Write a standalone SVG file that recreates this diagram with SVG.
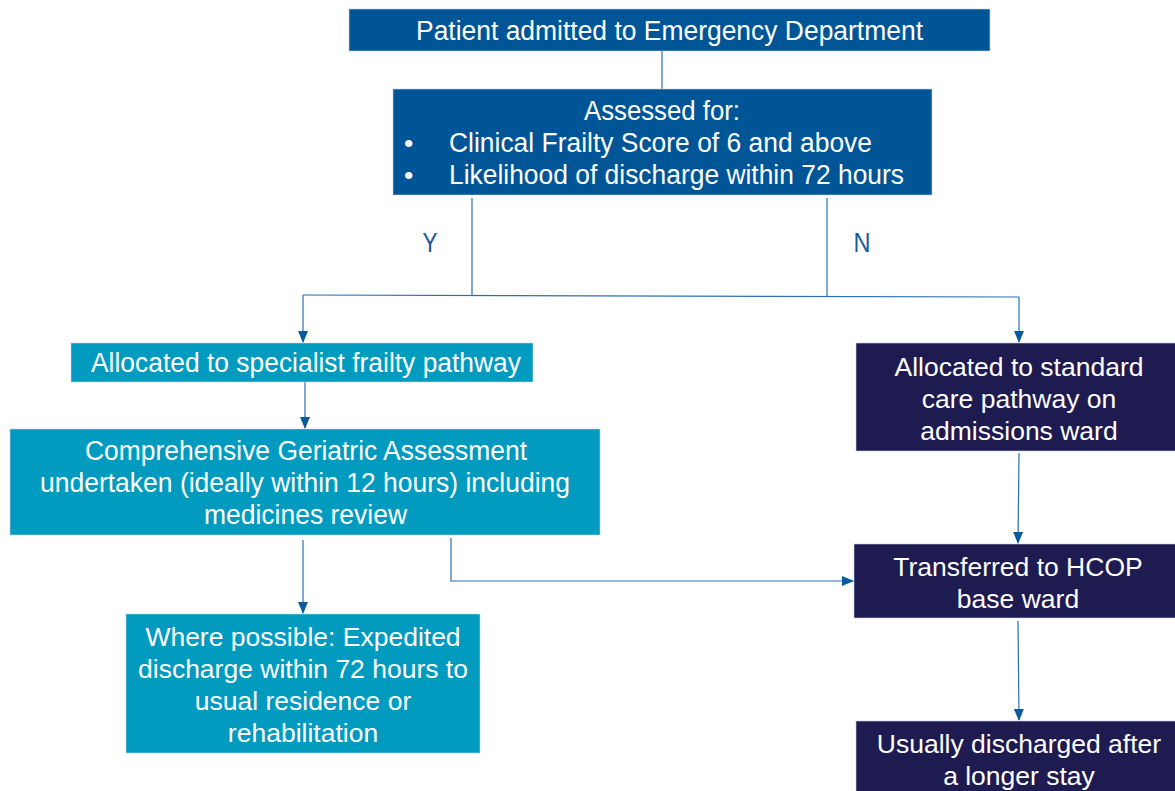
<svg xmlns="http://www.w3.org/2000/svg" width="1175" height="791" viewBox="0 0 1175 791">
  <defs>
    <marker id="arrow" markerWidth="12" markerHeight="10" refX="11" refY="5" orient="auto" markerUnits="userSpaceOnUse">
      <path d="M0,0 L12,5 L0,10 Z" fill="#0b5a9e"/>
    </marker>
    <style>
      .blue { fill: #005597; }
      .teal { fill: #009bbf; }
      .navy { fill: #1e1b50; }
      .box { stroke: #c8d4e6; stroke-width: 0.6; }
      text { font-family: "Liberation Sans", Arial, sans-serif; font-size: 26.5px; fill: #ffffff; }
      .narrow { font-size: 27px; }
      .mid { text-anchor: middle; }
      .lbl { fill: #1a5a9c; }
      .conn { fill: none; stroke: #2d6fb0; stroke-width: 1.2; }
    </style>
  </defs>

  <rect width="1175" height="791" fill="#ffffff"/>

  <!-- connectors -->
  <g id="connectors">
    <path class="conn" d="M662,51 L662,89"/>
    <path class="conn" d="M472,198 L472,295"/>
    <path class="conn" d="M827,198 L827,296"/>
    <path class="conn" d="M303,295 L1019,297"/>
    <path class="conn" d="M303,295 L303,342" marker-end="url(#arrow)"/>
    <path class="conn" d="M1019,297 L1019,342" marker-end="url(#arrow)"/>
    <path class="conn" d="M305,382 L305,428" marker-end="url(#arrow)"/>
    <path class="conn" d="M303,540 L303,613" marker-end="url(#arrow)"/>
    <path class="conn" d="M451,538 L451,581 L853,581" marker-end="url(#arrow)"/>
    <path class="conn" d="M1019,453 L1018,543" marker-end="url(#arrow)"/>
    <path class="conn" d="M1018,621 L1019,720" marker-end="url(#arrow)"/>
    <text class="lbl mid narrow" x="430" y="252" textLength="15" lengthAdjust="spacingAndGlyphs">Y</text>
    <text class="lbl mid narrow" x="862" y="252" textLength="17" lengthAdjust="spacingAndGlyphs">N</text>
  </g>

  <!-- emergency department admission -->
  <g id="admitted">
    <rect class="blue box" x="349" y="9" width="641" height="42"/>
    <text class="mid narrow" x="669.5" y="40" textLength="507" lengthAdjust="spacingAndGlyphs">Patient admitted to Emergency Department</text>
  </g>

  <!-- assessment criteria -->
  <g id="assessed">
    <rect class="blue box" x="393" y="89" width="539" height="106"/>
    <text class="mid narrow" x="662" y="120" textLength="156" lengthAdjust="spacingAndGlyphs">Assessed for:</text>
    <text x="404" y="152">•</text>
    <text class="narrow" x="449" y="152" textLength="423" lengthAdjust="spacingAndGlyphs">Clinical Frailty Score of 6 and above</text>
    <text x="404" y="184">•</text>
    <text class="narrow" x="449" y="184" textLength="455" lengthAdjust="spacingAndGlyphs">Likelihood of discharge within 72 hours</text>
  </g>

  <!-- Y branch -->
  <g id="frailty-pathway">
    <rect class="teal box" x="71" y="343" width="462" height="39"/>
    <text class="mid narrow" x="306" y="372" textLength="430" lengthAdjust="spacingAndGlyphs">Allocated to specialist frailty pathway</text>
  </g>

  <g id="cga">
    <rect class="teal box" x="10" y="429" width="590" height="106"/>
    <text class="mid narrow" x="306" y="460" textLength="442" lengthAdjust="spacingAndGlyphs">Comprehensive Geriatric Assessment</text>
    <text class="mid narrow" x="305" y="492" textLength="530" lengthAdjust="spacingAndGlyphs">undertaken (ideally within 12 hours) including</text>
    <text class="mid narrow" x="305.5" y="524" textLength="203" lengthAdjust="spacingAndGlyphs">medicines review</text>
  </g>

  <g id="expedited-discharge">
    <rect class="teal box" x="126" y="614" width="354" height="139"/>
    <text class="mid" x="303" y="646">Where possible: Expedited</text>
    <text class="mid" x="303" y="678">discharge within 72 hours to</text>
    <text class="mid" x="303" y="710">usual residence or</text>
    <text class="mid" x="303" y="742">rehabilitation</text>
  </g>

  <!-- N branch -->
  <g id="standard-care">
    <rect class="navy box" x="856" y="343" width="325" height="108"/>
    <text class="mid" x="1019" y="376">Allocated to standard</text>
    <text class="mid" x="1019" y="408">care pathway on</text>
    <text class="mid" x="1019" y="440">admissions ward</text>
  </g>

  <g id="hcop-ward">
    <rect class="navy box" x="854" y="544" width="327" height="74"/>
    <text class="mid" x="1018" y="576">Transferred to HCOP</text>
    <text class="mid" x="1018" y="608">base ward</text>
  </g>

  <g id="longer-stay">
    <rect class="navy box" x="856" y="721" width="325" height="80"/>
    <text class="mid" x="1019" y="753">Usually discharged after</text>
    <text class="mid" x="1019" y="785">a longer stay</text>
  </g>
</svg>
